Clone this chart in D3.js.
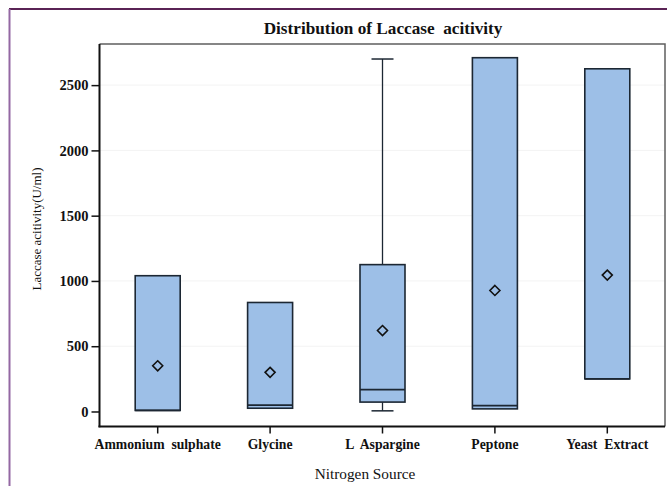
<!DOCTYPE html>
<html>
<head>
<meta charset="utf-8">
<script src="https://cdn.jsdelivr.net/npm/d3@7"></script>
<style>
  html, body { margin: 0; padding: 0; background: #fff; }
  svg { display: block; }
</style>
</head>
<body>
<svg id="chart" width="667" height="486"></svg>
<script>
// Laccase activity (U/ml) by nitrogen source: box statistics
const categories = ["Ammonium  sulphate", "Glycine", "L  Aspargine", "Peptone", "Yeast  Extract"];
const minVals    = [8,    25,  5,    20,   250];
const q1Vals     = [8,    25,  72,   20,   250];
const medianVals = [8,    48,  168,  45,   250];
const q3Vals     = [1040, 835, 1125, 2710, 2625];
const maxVals    = [1040, 835, 2700, 2710, 2625];
const meanVals   = [350,  300, 620,  927,  1045];
const yTicks     = [0, 500, 1000, 1500, 2000, 2500];

const svg = d3.select("#chart");
const plot = { left: 99.5, right: 665, top: 44, bottom: 426.5 };
const serif = "'Liberation Serif', 'DejaVu Serif', serif";

// page border (top and left edges)
svg.append("line").attr("x1", 9).attr("x2", 667).attr("y1", 9).attr("y2", 9)
  .attr("stroke", "#5a2355").attr("stroke-width", 2);
svg.append("line").attr("x1", 9.5).attr("x2", 9.5).attr("y1", 9).attr("y2", 486)
  .attr("stroke", "#9468a3").attr("stroke-width", 2);

const x = d3.scaleBand().domain(categories).range([101.5, 663.5]).padding(0);
const y = d3.scaleLinear().domain([-115, 2815]).range([plot.bottom, plot.top]);

// faint reference lines
svg.append("g").selectAll("line").data(yTicks.slice(1)).join("line")
  .attr("x1", plot.left).attr("x2", plot.right)
  .attr("y1", d => y(d)).attr("y2", d => y(d))
  .attr("stroke", "#f3f3f3").attr("stroke-width", 1);

// plot frame: top and right in grey
svg.append("path")
  .attr("d", `M${plot.left},${plot.top}H${plot.right}V${plot.bottom}`)
  .attr("fill", "none").attr("stroke", "#5f5f5f").attr("stroke-width", 1.5);

const data = categories.map((c, i) => ({
  cat: c, min: minVals[i], q1: q1Vals[i], med: medianVals[i],
  q3: q3Vals[i], max: maxVals[i], mean: meanVals[i]
}));

const boxW = 45;
const capW = 22;
const stroke = "#1c2733";
const g = svg.append("g");

data.forEach(d => {
  const cx = x(d.cat) + x.bandwidth() / 2;
  const bg = g.append("g");
  // whiskers
  if (d.max > d.q3) {
    bg.append("line").attr("x1", cx).attr("x2", cx).attr("y1", y(d.q3)).attr("y2", y(d.max))
      .attr("stroke", stroke).attr("stroke-width", 1.3);
    bg.append("line").attr("x1", cx - capW / 2).attr("x2", cx + capW / 2)
      .attr("y1", y(d.max)).attr("y2", y(d.max)).attr("stroke", stroke).attr("stroke-width", 1.5);
  }
  if (d.min < d.q1) {
    bg.append("line").attr("x1", cx).attr("x2", cx).attr("y1", y(d.q1)).attr("y2", y(d.min))
      .attr("stroke", stroke).attr("stroke-width", 1.3);
    bg.append("line").attr("x1", cx - capW / 2).attr("x2", cx + capW / 2)
      .attr("y1", y(d.min)).attr("y2", y(d.min)).attr("stroke", stroke).attr("stroke-width", 1.5);
  }
  // box
  bg.append("rect")
    .attr("x", cx - boxW / 2).attr("width", boxW)
    .attr("y", y(d.q3)).attr("height", y(d.q1) - y(d.q3))
    .attr("fill", "#9dbfe7").attr("stroke", stroke).attr("stroke-width", 1.6);
  // median
  bg.append("line").attr("x1", cx - boxW / 2).attr("x2", cx + boxW / 2)
    .attr("y1", y(d.med)).attr("y2", y(d.med))
    .attr("stroke", stroke).attr("stroke-width", 1.8);
  // mean marker
  const m = 5;
  bg.append("path")
    .attr("d", `M${cx},${y(d.mean) - m}L${cx + m},${y(d.mean)}L${cx},${y(d.mean) + m}L${cx - m},${y(d.mean)}Z`)
    .attr("fill", "none").attr("stroke", "#111").attr("stroke-width", 1.6);
});

// axes
const yAxis = d3.axisLeft(y).tickValues(yTicks).tickSize(8).tickPadding(3).tickFormat(d3.format("d"));
const yg = svg.append("g").attr("transform", `translate(${plot.left},0)`).call(yAxis);
yg.select(".domain").remove();
yg.append("line").attr("x1", 0).attr("x2", 0).attr("y1", plot.top).attr("y2", plot.bottom + 0.75)
  .attr("stroke", "#111").attr("stroke-width", 2);

const xAxis = d3.axisBottom(x).tickSize(7).tickPadding(6);
const xg = svg.append("g").attr("transform", `translate(0,${plot.bottom})`).call(xAxis);
xg.select(".domain").remove();
xg.append("line").attr("x1", plot.left - 1).attr("x2", plot.right).attr("y1", 0).attr("y2", 0)
  .attr("stroke", "#111").attr("stroke-width", 2);

svg.selectAll(".tick line").attr("stroke", "#111").attr("stroke-width", 1.5);
svg.selectAll(".tick text")
  .attr("font-family", serif).attr("font-weight", "bold").attr("fill", "#111")
  .style("white-space", "pre");
yg.selectAll(".tick text").attr("font-size", 14.5);
xg.selectAll(".tick text").attr("font-size", 13.7);

// titles
svg.append("text").attr("x", 383).attr("y", 34).attr("text-anchor", "middle")
  .attr("font-family", serif).attr("font-size", 17.2).attr("font-weight", "bold")
  .attr("fill", "#111").style("white-space", "pre").text("Distribution of Laccase  acitivity");

svg.append("text").attr("x", 365).attr("y", 479).attr("text-anchor", "middle")
  .attr("font-family", serif).attr("font-size", 15.3)
  .attr("fill", "#111").text("Nitrogen Source");

svg.append("text").attr("transform", "translate(41,229) rotate(-90)").attr("text-anchor", "middle")
  .attr("font-family", serif).attr("font-size", 13)
  .attr("fill", "#111").text("Laccase acitivity(U/ml)");
</script>
</body>
</html>
